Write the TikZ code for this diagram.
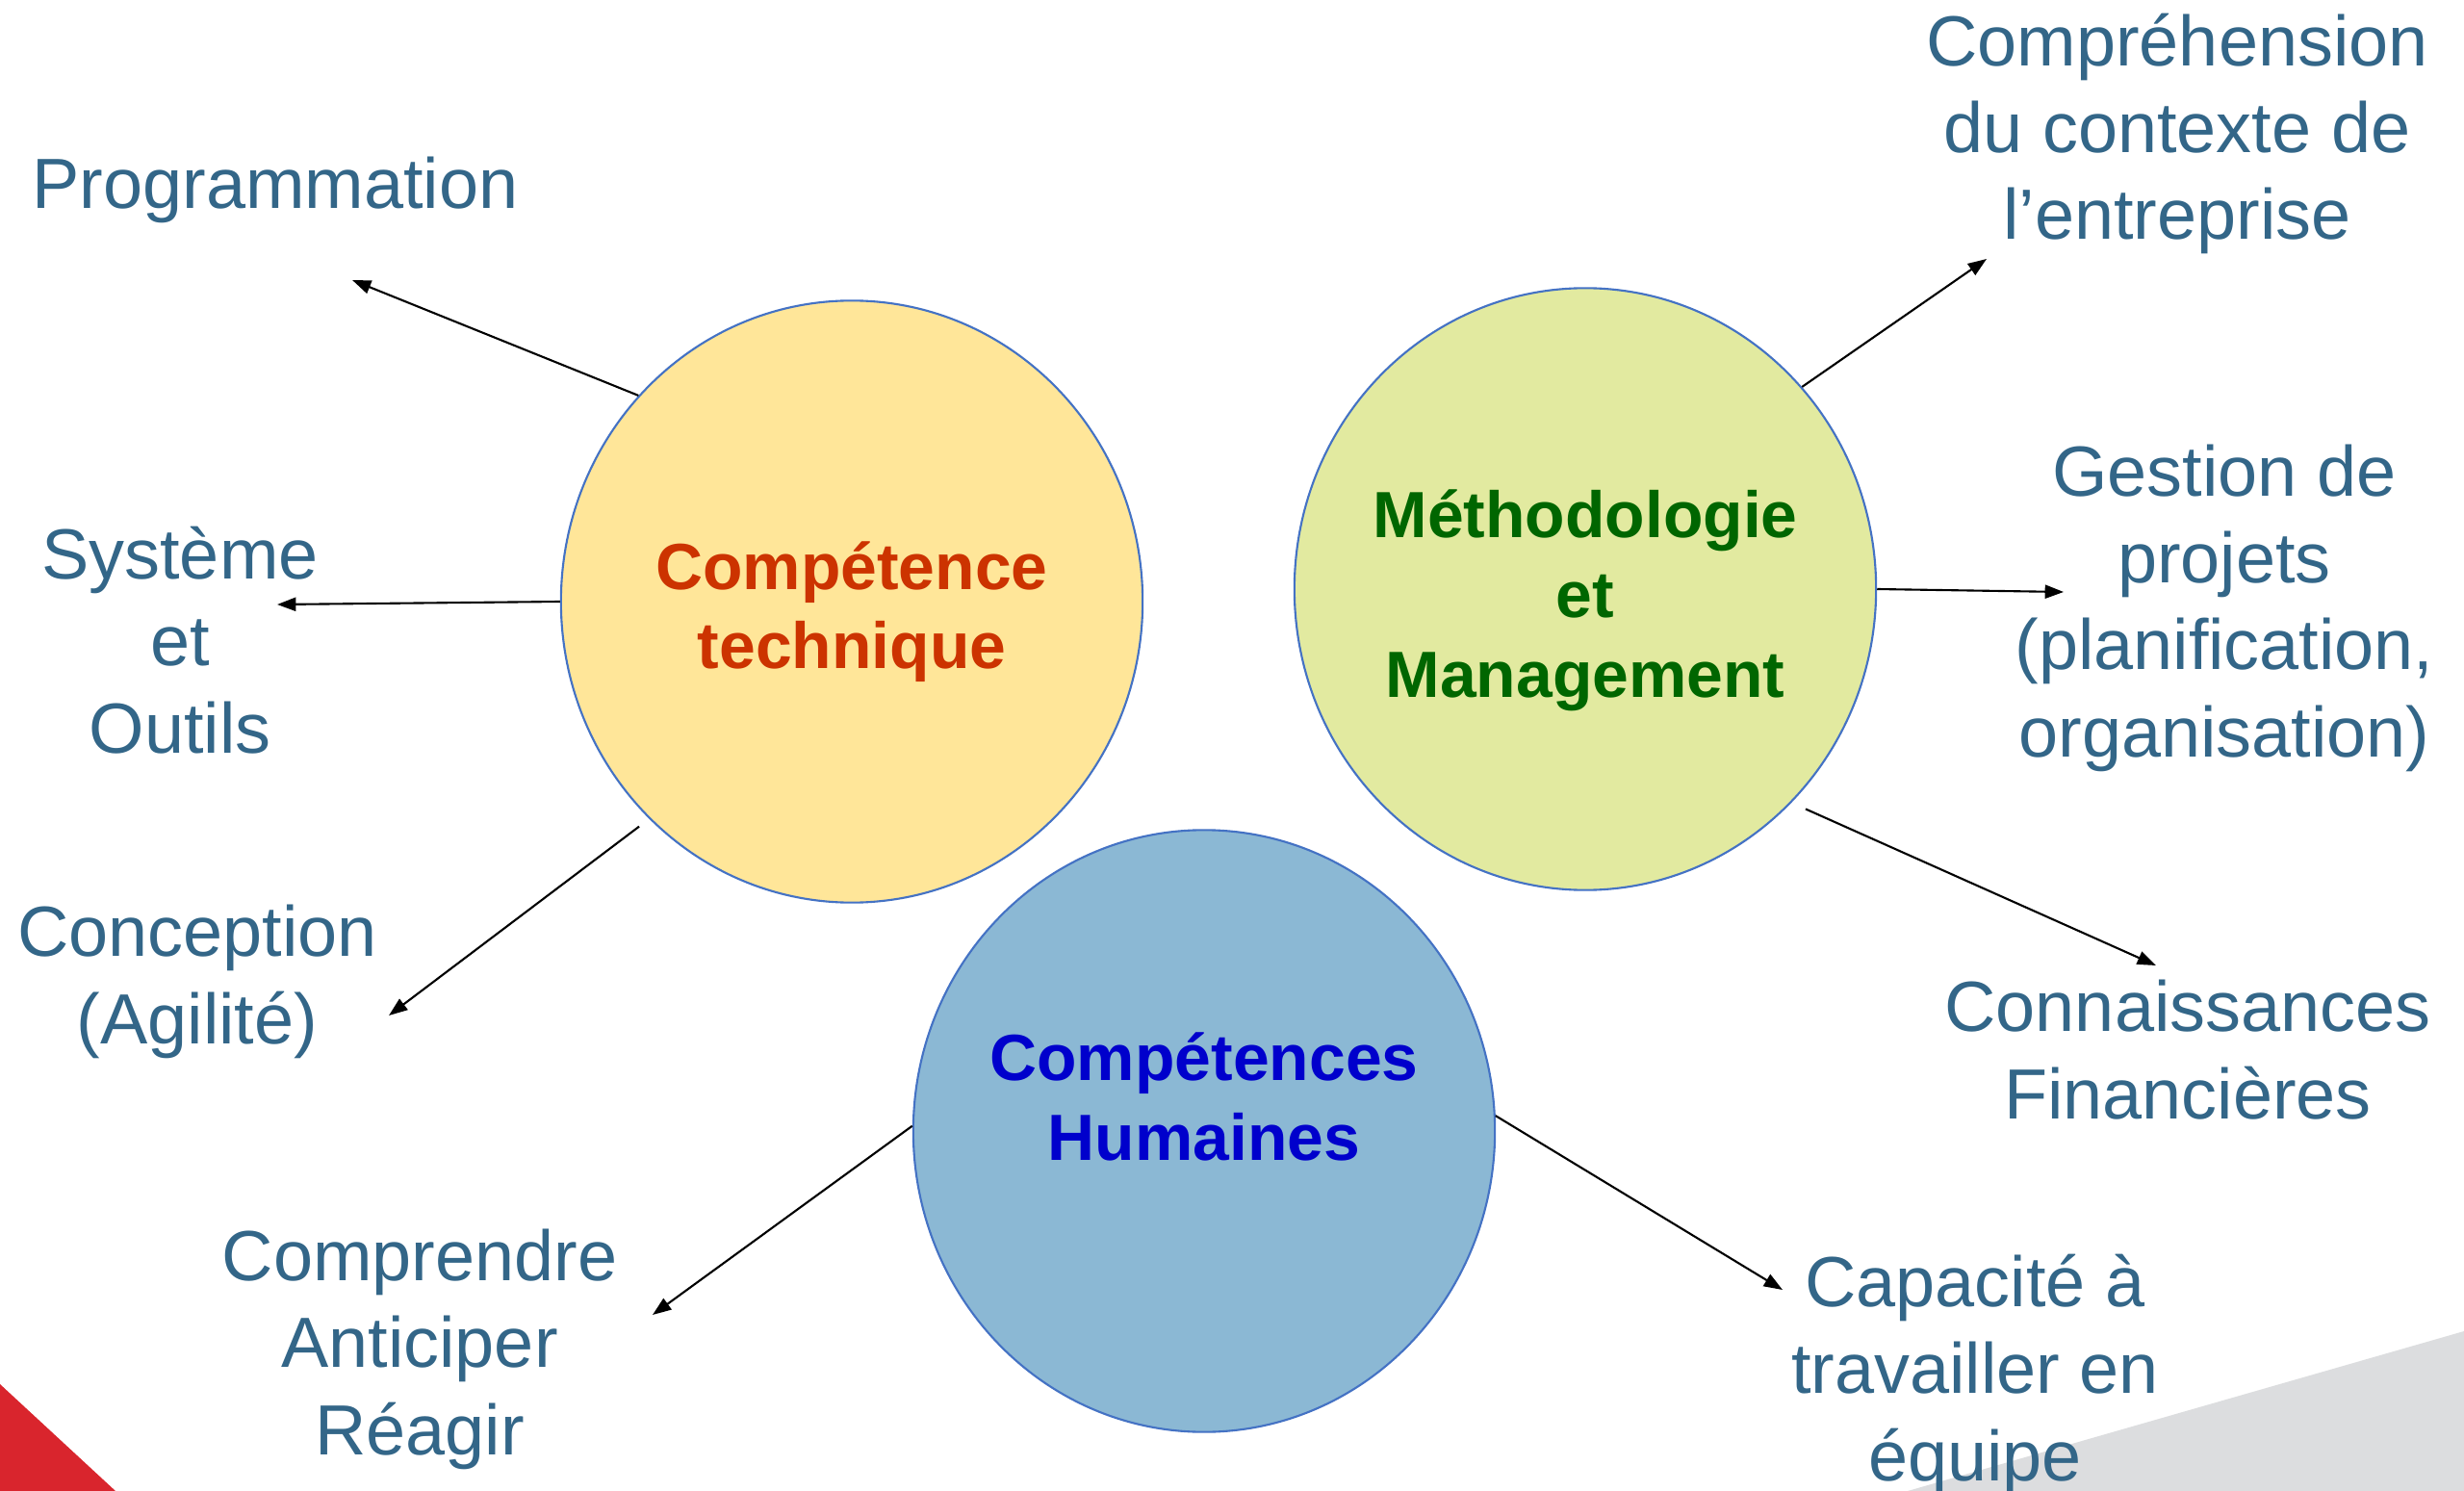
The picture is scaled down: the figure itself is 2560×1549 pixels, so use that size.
\documentclass[tikz,border=0pt]{standalone}
\usepackage{fontspec}
\setmainfont{Liberation Sans}
\usetikzlibrary{arrows.meta,shapes.geometric}
\definecolor{skillblue}{HTML}{336688}
\definecolor{hubline}{HTML}{4472C4}
\definecolor{techfill}{HTML}{FFE699}
\definecolor{methfill}{HTML}{E2EAA0}
\definecolor{humfill}{HTML}{8BB8D4}
\definecolor{techred}{HTML}{CC3300}
\definecolor{methgreen}{HTML}{006600}
\definecolor{humblue}{HTML}{0000CC}
\definecolor{cornerred}{HTML}{D9252D}
\definecolor{cornergray}{HTML}{DCDDDF}

\begin{document}
\begin{tikzpicture}[x=0.01cm,y=-0.01cm]
\tikzset{hub/.style={ellipse,draw=hubline,line width=0.6pt,minimum width=6.04cm,minimum height=6.25cm,inner sep=0pt}}
\tikzset{hubtext/.style={anchor=base,align=center,font=\fontsize{19.3pt}{23.6pt}\selectfont\bfseries}}
\tikzset{skill/.style={anchor=base,align=center,text=skillblue,font=\fontsize{21pt}{25.6pt}\selectfont}}
\tikzset{pointer/.style={-{Triangle[length=5.5pt,width=4pt]},line width=0.6pt}}
\useasboundingbox[fill=white] (0,0) rectangle (2560,1549);

% slide corners
\fill[cornerred] (0,1438) -- (120,1549) -- (0,1549) -- cycle;
\fill[cornergray] (1982,1549) -- (2560,1383) -- (2560,1549) -- cycle;

% the three hubs (text placed by its last baseline)
\node[hub,fill=techfill] (tech) at (885,625) {};
\node[hub,fill=methfill] (meth) at (1647,612) {};
\node[hub,fill=humfill] (hum) at (1251,1175) {};
\node[hubtext,text=techred] (techtxt) at (885,695) {Compétence\\technique};
\node[hubtext,text=methgreen] (methtxt) at (1647,724) {Méthodologie\\et\\Management};
\node[hubtext,text=humblue] (humtxt) at (1251,1205) {Compétences\\Humaines};

% skills
\node[skill] (prog) at (286,217) {Programmation};
\node[skill] (sys) at (187,782) {Système\\et\\Outils};
\node[skill] (conc) at (205,1084) {Conception\\(Agilité)};
\node[skill] (compr) at (436,1511) {Comprendre\\Anticiper\\Réagir};
\node[skill] (ctx) at (2262,249) {Compréhension\\du contexte de\\l’entreprise};
\node[skill] (gest) at (2311,786) {Gestion de\\projets\\(planification,\\organisation)};
\node[skill] (fin) at (2273,1162) {Connaissances\\Financières};
\node[skill] (equipe) at (2052,1538) {Capacité à\\travailler en\\équipe};

% arrow tips
\coordinate (tprog) at (366,291);
\coordinate (tsys) at (288,628);
\coordinate (tconc) at (404,1055);
\coordinate (tcompr) at (678,1366);
\coordinate (tctx) at (2064,269);
\coordinate (tgest) at (2144,615);
\coordinate (tfin) at (2240,1003);
\coordinate (tequipe) at (1852,1340);

\draw[pointer] (tech.136) -- (tprog);
\draw[pointer] (tech.180) -- (tsys);
\draw[pointer,shorten <=0.13cm] (tech.227) -- (tconc);
\draw[pointer] (hum.179) -- (tcompr);
\draw[pointer] (meth.43) -- (tctx);
\draw[pointer] (meth.0) -- (tgest);
\draw[pointer,shorten <=0.16cm] (meth.314) -- (tfin);
\draw[pointer] (hum.3) -- (tequipe);
\end{tikzpicture}
\end{document}
